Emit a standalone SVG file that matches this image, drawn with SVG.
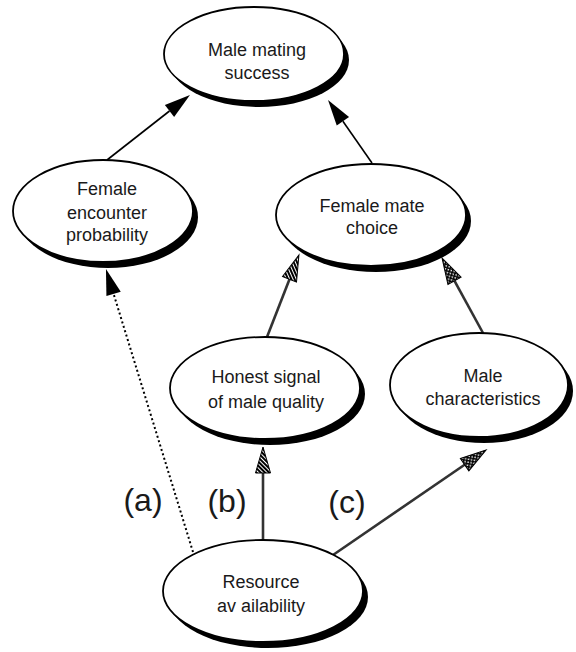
<svg xmlns="http://www.w3.org/2000/svg" width="576" height="652" viewBox="0 0 576 652">
<defs>
<style>
.sh{fill:#000}
.el{fill:#fff;stroke:#000;stroke-width:1.8}
.t{font-family:"Liberation Sans",Arial,sans-serif;font-size:18px;fill:#1a1a1a;text-anchor:middle}
.lab{font-family:"Liberation Sans",Arial,sans-serif;font-size:32px;fill:#1a1a1a;text-anchor:middle}
.solid{stroke:#000;stroke-width:1.6;fill:none}
.dot{stroke:#000;stroke-width:2;stroke-dasharray:2 2.6;fill:none}
.grey{stroke:#333;stroke-width:2.6;fill:none}
</style>
<pattern id="hatch" width="3" height="3" patternUnits="userSpaceOnUse" patternTransform="rotate(45)">
<rect width="3" height="3" fill="#fff"/><rect width="2" height="3" fill="#000"/>
</pattern>
<pattern id="xhatch" width="3" height="3" patternUnits="userSpaceOnUse" patternTransform="rotate(45)">
<rect width="3" height="3" fill="#fff"/><rect width="1.5" height="3" fill="#000"/><rect width="3" height="1.5" fill="#000"/>
</pattern>
<marker id="mBlack" markerUnits="userSpaceOnUse" markerWidth="30" markerHeight="16" refX="0" refY="7.5" orient="auto" overflow="visible">
<path d="M0,0 L26,7.5 L0,15 Z" fill="#000"/>
</marker>
<marker id="mHatch" markerUnits="userSpaceOnUse" markerWidth="30" markerHeight="16" refX="0" refY="7.5" orient="auto" overflow="visible">
<path d="M0,0 L26,7.5 L0,15 Z" fill="url(#hatch)" stroke="#000" stroke-width="1"/>
</marker>
<marker id="mX" markerUnits="userSpaceOnUse" markerWidth="30" markerHeight="16" refX="0" refY="7.5" orient="auto" overflow="visible">
<path d="M0,0 L26,7.5 L0,15 Z" fill="url(#xhatch)" stroke="#000" stroke-width="1"/>
</marker>
</defs>
<rect width="576" height="652" fill="#fff"/>

<g id="connectors">
<line class="solid" x1="107" y1="160" x2="169.5" y2="111" marker-end="url(#mBlack)"/>
<line class="solid" x1="372" y1="163" x2="342.9" y2="121.3" marker-end="url(#mBlack)"/>
<line class="dot" x1="193" y1="552" x2="113.6" y2="293.9" marker-end="url(#mBlack)"/>
<line class="grey" x1="263" y1="540" x2="263" y2="473" marker-end="url(#mHatch)"/>
<line class="grey" x1="267" y1="337" x2="289.5" y2="279.2" marker-end="url(#mHatch)"/>
<line class="grey" x1="483" y1="333" x2="454.5" y2="280.8" marker-end="url(#mX)"/>
<line class="grey" x1="333" y1="555" x2="464.6" y2="464.7" marker-end="url(#mX)"/>
</g>

<g id="male-mating-success">
<ellipse class="sh" cx="259" cy="60" rx="90" ry="47"/>
<ellipse class="el" cx="254" cy="54" rx="90" ry="47"/>
<text class="t" x="257" y="56">Male mating</text>
<text class="t" x="257" y="79">success</text>
</g>

<g id="female-encounter-probability">
<ellipse class="sh" cx="108" cy="217" rx="90" ry="51"/>
<ellipse class="el" cx="103" cy="211" rx="90" ry="51"/>
<text class="t" x="107" y="195">Female</text>
<text class="t" x="107" y="219">encounter</text>
<text class="t" x="107" y="241">probability</text>
</g>

<g id="female-mate-choice">
<ellipse class="sh" cx="376" cy="221" rx="95" ry="51"/>
<ellipse class="el" cx="371" cy="215" rx="95" ry="51"/>
<text class="t" x="372" y="212">Female mate</text>
<text class="t" x="372" y="234">choice</text>
</g>

<g id="honest-signal">
<ellipse class="sh" cx="270" cy="394" rx="95" ry="51"/>
<ellipse class="el" cx="265" cy="388" rx="95" ry="51"/>
<text class="t" x="266" y="383">Honest signal</text>
<text class="t" x="266" y="408">of  male quality</text>
</g>

<g id="male-characteristics">
<ellipse class="sh" cx="484" cy="391" rx="89" ry="52"/>
<ellipse class="el" cx="479" cy="385" rx="89" ry="52"/>
<text class="t" x="483" y="382">Male</text>
<text class="t" x="483" y="405">characteristics</text>
</g>

<g id="resource-availability">
<ellipse class="sh" cx="268" cy="597" rx="100" ry="51"/>
<ellipse class="el" cx="263" cy="591" rx="100" ry="51"/>
<text class="t" x="261" y="588">Resource</text>
<text class="t" x="261" y="612">av ailability</text>
</g>

<g id="labels">
<text class="lab" x="143" y="511">(a)</text>
<text class="lab" x="227" y="512">(b)</text>
<text class="lab" x="347" y="513">(c)</text>
</g>
</svg>
